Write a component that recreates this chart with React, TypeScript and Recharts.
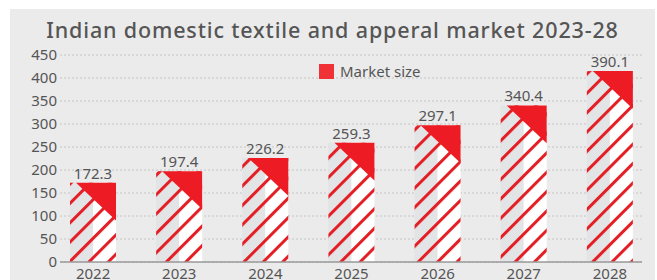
import React from 'react';
import { BarChart, Bar, XAxis, YAxis, CartesianGrid, LabelList, Legend } from 'recharts';

const years = ['2022', '2023', '2024', '2025', '2026', '2027', '2028'];
// values printed above the bars
const marketSize = [172.3, 197.4, 226.2, 259.3, 297.1, 340.4, 390.1];
// bar heights as drawn in the reference (the 2028 bar is drawn taller than its label)
const drawnHeight = [172.3, 197.4, 226.2, 259.3, 297.1, 340.4, 415];
const yTicks = [0, 50, 100, 150, 200, 250, 300, 350, 400, 450];

const data = years.map((y, i) => ({ year: y, value: drawnHeight[i], label: marketSize[i].toFixed(1) }));

const FONT = "'Noto Sans', sans-serif";
const RED = '#ed1c24';
const TEXT = '#555555';

const ArrowBar = (props: any) => {
  const { x, y, width, height } = props;
  if (!height || height <= 0) return null;
  const half = width / 2;
  const legTop = width * 0.87;
  const legRight = width * 0.82;
  return (
    <g>
      <rect x={x} y={y} width={half} height={height} fill="#e3e4e6" />
      <rect x={x + half} y={y} width={width - half} height={height} fill="#ffffff" />
      <rect x={x} y={y} width={width} height={height} fill="url(#stripes)" />
      <polygon
        points={`${x + width - legTop},${y} ${x + width},${y} ${x + width},${y + legRight}`}
        fill={RED}
      />
    </g>
  );
};

const LegendContent = () => (
  <div style={{ display: 'flex', alignItems: 'center', fontFamily: FONT, fontSize: 15, color: TEXT, whiteSpace: 'nowrap' }}>
    <span style={{ display: 'inline-block', width: 15, height: 15, background: '#f03236', marginRight: 6 }} />
    <span>Market size</span>
  </div>
);

export default function App() {
  return (
    <div style={{ position: 'absolute', left: 0, top: 0, width: 657, height: 280, overflow: 'hidden', background: '#fff' }}>
      <div style={{ position: 'absolute', left: 10, top: 9, width: 645, height: 271, background: '#ebebeb' }} />
      <div
        style={{
          position: 'absolute',
          left: 10,
          width: 645,
          top: 15,
          textAlign: 'center',
          fontFamily: FONT,
          fontSize: 21.5,
          letterSpacing: 0.85,
          fontWeight: 500,
          color: TEXT,
          lineHeight: 'normal',
          whiteSpace: 'nowrap',
        }}
      >
        Indian domestic textile and apperal market 2023-28
      </div>
      <div style={{ position: 'absolute', left: 0, top: 0 }}>
        <BarChart width={657} height={280} data={data} margin={{ top: 55, right: 15, bottom: 0, left: 0 }}>
          <defs>
            <pattern id="stripes" patternUnits="userSpaceOnUse" width={13.7} height={13.7} patternTransform="rotate(45)">
              <rect x={0} y={0} width={3} height={13.7} fill="#e31e24" />
            </pattern>
          </defs>
          <CartesianGrid vertical={false} stroke="#c4c4c4" strokeDasharray="2 2" />
          <XAxis
            dataKey="year"
            interval={0}
            tickLine={false}
            tickSize={0}
            tickMargin={6}
            height={18}
            padding={{ left: -10, right: -11 }}
            axisLine={{ stroke: '#9a9a9a', strokeWidth: 1.5 }}
            tick={{ fill: TEXT, fontSize: 15, fontFamily: FONT }}
          />
          <YAxis
            domain={[0, 450]}
            ticks={yTicks}
            interval={0}
            width={60}
            axisLine={false}
            tickLine={false}
            tickSize={0}
            tickMargin={3}
            tick={{ fill: TEXT, fontSize: 15, fontFamily: FONT }}
          />
          <Legend
            verticalAlign="middle"
            align="center"
            layout="horizontal"
            content={<LegendContent />}
            wrapperStyle={{ position: 'absolute', top: 61, left: 319, width: 'auto' }}
          />
          <Bar dataKey="value" name="Market size" barSize={46} shape={<ArrowBar />} isAnimationActive={false}>
            <LabelList dataKey="label" position="top" offset={4} fill={TEXT} fontSize={15} fontFamily={FONT} />
          </Bar>
        </BarChart>
      </div>
    </div>
  );
}
